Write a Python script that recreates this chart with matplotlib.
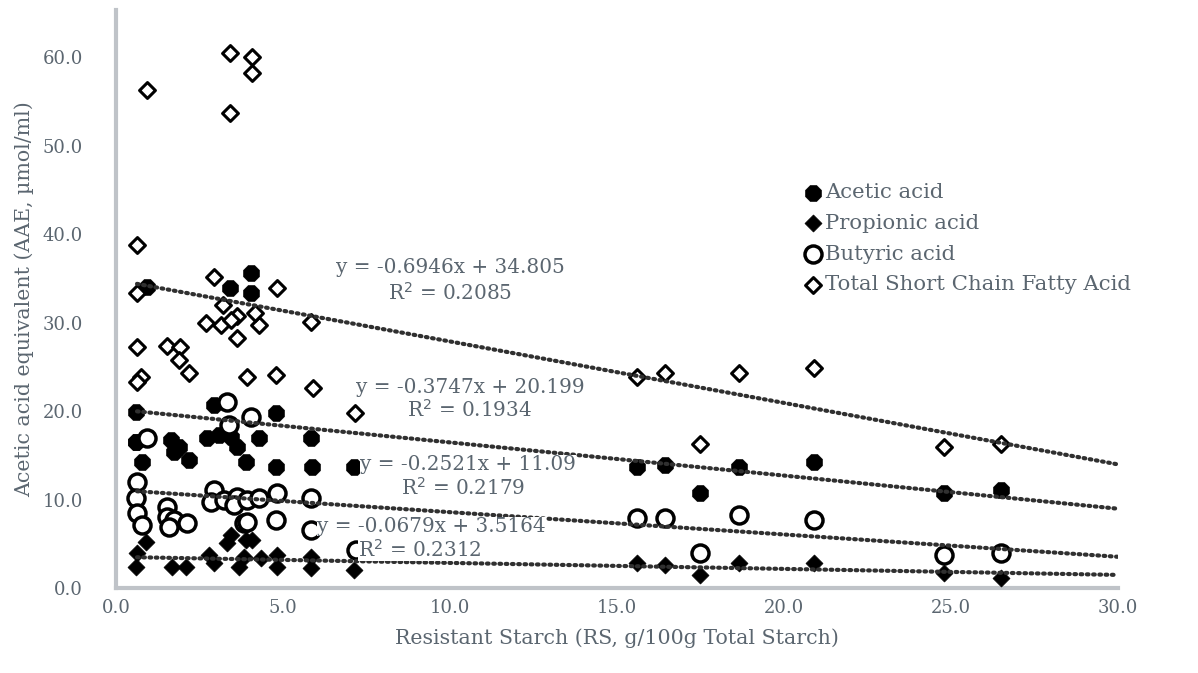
import numpy as np
import matplotlib.pyplot as plt

plt.rcParams["font.family"] = ["DejaVu Serif"]

# ---- data ----
acetic_x = [0.6, 0.93, 4.05, 3.42, 4.05, 0.6, 2.94, 2.73, 3.09, 3.45, 3.63, 0.6, 1.65, 1.89, 1.74,
            2.19, 0.78, 3.9, 4.8, 4.29, 5.85, 4.8, 5.88, 7.14,
            15.6, 16.44, 18.66, 20.9, 17.5, 24.8, 26.5]
acetic_y = [19.9, 34.0, 35.6, 33.9, 33.3, 16.5, 20.7, 17.0, 17.3, 17.1, 15.9, 16.5, 16.7, 15.9, 15.4,
            14.5, 14.2, 14.2, 19.8, 17.0, 17.0, 13.7, 13.7, 13.7,
            13.7, 13.9, 13.7, 14.2, 10.7, 10.7, 11.1]

propionic_x = [0.9, 0.63, 0.6, 1.68, 2.1, 2.8, 2.94, 3.45, 3.33, 3.9, 3.84, 4.08, 3.69, 4.35,
               4.83, 4.83, 5.85, 5.85, 7.14,
               15.6, 16.44, 17.5, 18.66, 20.9, 24.8, 26.5]
propionic_y = [5.2, 4.0, 2.4, 2.4, 2.4, 3.7, 2.8, 6.0, 5.1, 5.4, 3.5, 5.4, 2.4, 3.4,
               3.7, 2.4, 3.5, 2.3, 2.0,
               2.8, 2.6, 1.5, 2.8, 2.8, 1.7, 1.1]

butyric_x = [3.33, 0.93, 3.39, 4.05, 0.63, 0.6, 0.63, 0.78, 2.94, 2.85, 3.24, 3.63, 3.54, 3.93,
             1.53, 1.53, 1.74, 2.13, 1.59, 3.84, 4.29, 4.83, 5.85, 3.93, 4.8, 5.85, 7.2,
             15.6, 16.44, 18.66, 20.9, 17.5, 24.8, 26.5]
butyric_y = [21.0, 17.0, 18.4, 19.3, 12.0, 10.2, 8.5, 7.1, 11.1, 9.7, 9.9, 10.3, 9.4, 9.9,
             9.1, 8.0, 7.7, 7.3, 6.9, 7.3, 10.2, 10.7, 10.2, 7.5, 7.7, 6.6, 4.3,
             7.9, 7.9, 8.2, 7.7, 4.0, 3.7, 4.0]

total_x = [0.63, 0.93, 3.42, 4.08, 4.08, 3.42, 2.94, 4.83, 0.63, 3.21, 3.63, 2.7, 3.15, 3.45,
           4.29, 4.17, 5.85, 3.63, 0.63, 1.53, 1.92, 1.89, 2.19, 0.75, 0.63, 3.93, 4.8,
           5.9, 7.17,
           15.6, 16.44, 18.66, 20.9, 17.5, 24.8, 26.5]
total_y = [38.8, 56.3, 60.5, 60.0, 58.2, 53.7, 35.1, 33.9, 33.3, 32.0, 30.7, 29.9, 29.7, 30.3,
           29.7, 31.1, 30.1, 28.2, 27.2, 27.3, 27.2, 25.8, 24.3, 23.8, 23.3, 23.8, 24.1,
           22.6, 19.8,
           23.8, 24.3, 24.3, 24.9, 16.3, 15.9, 16.3]

# linear trendlines as labelled on the chart
trend_slope = [-0.6946, -0.3747, -0.2521, -0.0679]
trend_icpt = [34.805, 20.199, 11.09, 3.5164]
trend_eq = ["y = -0.6946x + 34.805", "y = -0.3747x + 20.199",
            "y = -0.2521x + 11.09", "y = -0.0679x + 3.5164"]
trend_r2 = ["R$^2$ = 0.2085", "R$^2$ = 0.1934", "R$^2$ = 0.2179", "R$^2$ = 0.2312"]
eq_xy = [(10.0, 36.2), (10.6, 22.7), (10.55, 14.0), (9.45, 7.0)]
r2_xy = [(10.0, 33.3), (10.6, 20.1), (10.4, 11.3), (9.1, 4.3)]

labels = ["Acetic acid", "Propionic acid", "Butyric acid", "Total Short Chain Fatty Acid"]

text_col = "#5B6670"
spine_col = "#BFC3C8"

fig = plt.figure(figsize=(11.98, 6.73), dpi=100)
ax = fig.add_axes([0.0968, 0.1263, 0.8364, 0.8587])

ax.scatter(acetic_x, acetic_y, marker="8", s=150, c="black", edgecolors="black", lw=0.5,
           label=labels[0], zorder=3)
ax.scatter(propionic_x, propionic_y, marker="D", s=75, c="black", edgecolors="black", lw=0.5,
           label=labels[1], zorder=3)
ax.scatter(butyric_x, butyric_y, marker="o", s=150, c="white", edgecolors="black", lw=2.5,
           label=labels[2], zorder=3)
ax.scatter(total_x, total_y, marker="D", s=65, c="white", edgecolors="black", lw=2.2,
           label=labels[3], zorder=3)

xs = np.array([min(total_x), 30.0])
box = dict(fc="white", ec="none", pad=0)
for i in range(4):
    ax.plot(xs, trend_slope[i] * xs + trend_icpt[i], color="#303030", lw=3.0,
            ls=(0, (0.4, 1.1)), dash_capstyle="round", zorder=4)
    ax.text(eq_xy[i][0], eq_xy[i][1], trend_eq[i], ha="center", va="center",
            fontsize=14.4, color=text_col, zorder=5, bbox=box)
    ax.text(r2_xy[i][0], r2_xy[i][1], trend_r2[i], ha="center", va="center",
            fontsize=14.4, color=text_col, zorder=5, bbox=box)

ax.set_xlim(0, 30)
ax.set_ylim(0, 65.3)
ax.set_xticks(np.arange(0, 30.1, 5))
ax.set_yticks(np.arange(0, 60.1, 10))
ax.xaxis.set_major_formatter(plt.FormatStrFormatter("%.1f"))
ax.yaxis.set_major_formatter(plt.FormatStrFormatter("%.1f"))
ax.tick_params(length=0, labelsize=13, labelcolor=text_col)
ax.tick_params(axis="x", pad=8)
ax.tick_params(axis="y", pad=24)

for s in ["top", "right"]:
    ax.spines[s].set_visible(False)
for s in ["left", "bottom"]:
    ax.spines[s].set_color(spine_col)
    ax.spines[s].set_linewidth(3)

ax.set_xlabel("Resistant Starch (RS, g/100g Total Starch)", fontsize=14.8, color=text_col, labelpad=8)
ax.set_ylabel("Acetic acid equivalent (AAE, µmol/ml)", fontsize=14.8, color=text_col, labelpad=6)

leg = ax.legend(loc="upper left", bbox_to_anchor=(0.674, 0.715), frameon=False, fontsize=15.3,
                handletextpad=0.0, labelspacing=0.55, handlelength=1.2, borderaxespad=0)
for t in leg.get_texts():
    t.set_color(text_col)

fig.savefig("out.png", dpi=100)
